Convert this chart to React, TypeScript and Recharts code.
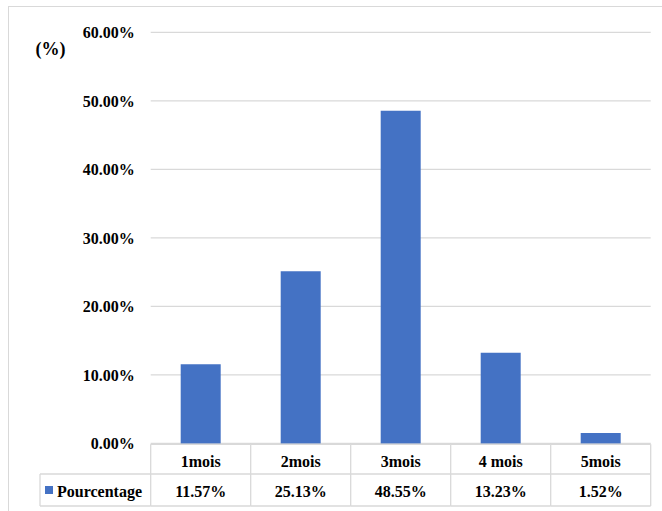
import React from "react";
import { BarChart, Bar, XAxis, YAxis, CartesianGrid } from "recharts";

const categories = ["1mois", "2mois", "3mois", "4 mois", "5mois"];
const percentages = [11.57, 25.13, 48.55, 13.23, 1.52];
const yTicks = [0, 10, 20, 30, 40, 50, 60];
const seriesName = "Pourcentage";
const unitLabel = "(%)";

const data = categories.map((c, i) => ({ name: c, value: percentages[i] }));

const W = 662;
const H = 511;
const Y_AXIS_W = 150.7;
const RIGHT = 11.3;
const TOP = 32.3;
const X_AXIS_H = 67;
const BOTTOM = 0.5;
const PLOT_W = W - Y_AXIS_W - RIGHT;
const BLUE = "#4472C4";
const GRID = "#d9d9d9";
const TEXT = "#000";
const FONT = "'Liberation Serif', 'Times New Roman', serif";

const fmt = (v: number) => `${v.toFixed(2)}%`;

function TableTick(props: any) {
  const { x, y, payload } = props;
  const idx = categories.indexOf(payload.value);
  const band = PLOT_W / categories.length;
  const left = x - band / 2;
  const right = x + band / 2;
  const r1 = y + 0.8;
  const r2 = y + 30.5;
  const r3 = y + 62.5;
  const textStyle = { fontFamily: FONT, fontWeight: 700, fontSize: 16, fill: TEXT };
  return (
    <g>
      <line x1={left} y1={r1} x2={right} y2={r1} stroke={GRID} strokeWidth={1.3} />
      <line x1={left} y1={r2} x2={right} y2={r2} stroke={GRID} strokeWidth={1.3} />
      <line x1={left} y1={r3} x2={right} y2={r3} stroke={GRID} strokeWidth={1.3} />
      <line x1={left} y1={r1} x2={left} y2={r3} stroke={GRID} strokeWidth={1.3} />
      {idx === categories.length - 1 && (
        <line x1={right} y1={r1} x2={right} y2={r3} stroke={GRID} strokeWidth={1.3} />
      )}
      {idx === 0 && (
        <g>
          <line x1={40} y1={r2} x2={left} y2={r2} stroke={GRID} strokeWidth={1.3} />
          <line x1={40} y1={r3} x2={left} y2={r3} stroke={GRID} strokeWidth={1.3} />
          <line x1={40} y1={r2} x2={40} y2={r3} stroke={GRID} strokeWidth={1.3} />
          <rect x={45} y={(r2 + r3) / 2 - 4} width={8} height={8} fill={BLUE} />
          <text x={57} y={(r2 + r3) / 2 + 1} dominantBaseline="central" textAnchor="start" style={textStyle}>
            {seriesName}
          </text>
        </g>
      )}
      <text x={x} y={(r1 + r2) / 2 + 2} dominantBaseline="central" textAnchor="middle" style={textStyle}>
        {payload.value}
      </text>
      <text x={x} y={(r2 + r3) / 2 + 1} dominantBaseline="central" textAnchor="middle" style={textStyle}>
        {fmt(percentages[idx])}
      </text>
    </g>
  );
}

export default function App() {
  return (
    <div
      style={{
        position: "absolute",
        left: 0,
        top: 0,
        width: W,
        height: H,
        overflow: "hidden",
        background: "#fff",
      }}
    >
      <div
        style={{
          position: "absolute",
          left: 8,
          top: 6,
          width: 700,
          height: 600,
          border: `1.5px solid ${GRID}`,
        }}
      />
      <div style={{ position: "absolute", left: 0, top: 0 }}>
        <BarChart
          width={W}
          height={H}
          data={data}
          margin={{ top: TOP, right: RIGHT, left: 0, bottom: BOTTOM }}
          barCategoryGap="30%"
        >
          <CartesianGrid vertical={false} stroke={GRID} strokeWidth={1.3} />
          <XAxis
            dataKey="name"
            height={X_AXIS_H}
            axisLine={false}
            tickLine={false}
            tickSize={0}
            tickMargin={0}
            interval={0}
            tick={<TableTick />}
          />
          <YAxis
            width={Y_AXIS_W}
            domain={[0, 60]}
            ticks={yTicks}
            tickFormatter={fmt}
            axisLine={false}
            tickLine={false}
            tickMargin={10}
            tick={{ fontFamily: FONT, fontWeight: 700, fontSize: 16, fill: TEXT }}
          />
          <Bar dataKey="value" fill={BLUE} isAnimationActive={false} />
          <text
            x={50.5}
            y={49}
            textAnchor="middle"
            dominantBaseline="central"
            style={{ fontFamily: FONT, fontWeight: 700, fontSize: 18, fill: TEXT }}
          >
            {unitLabel}
          </text>
        </BarChart>
      </div>
    </div>
  );
}
